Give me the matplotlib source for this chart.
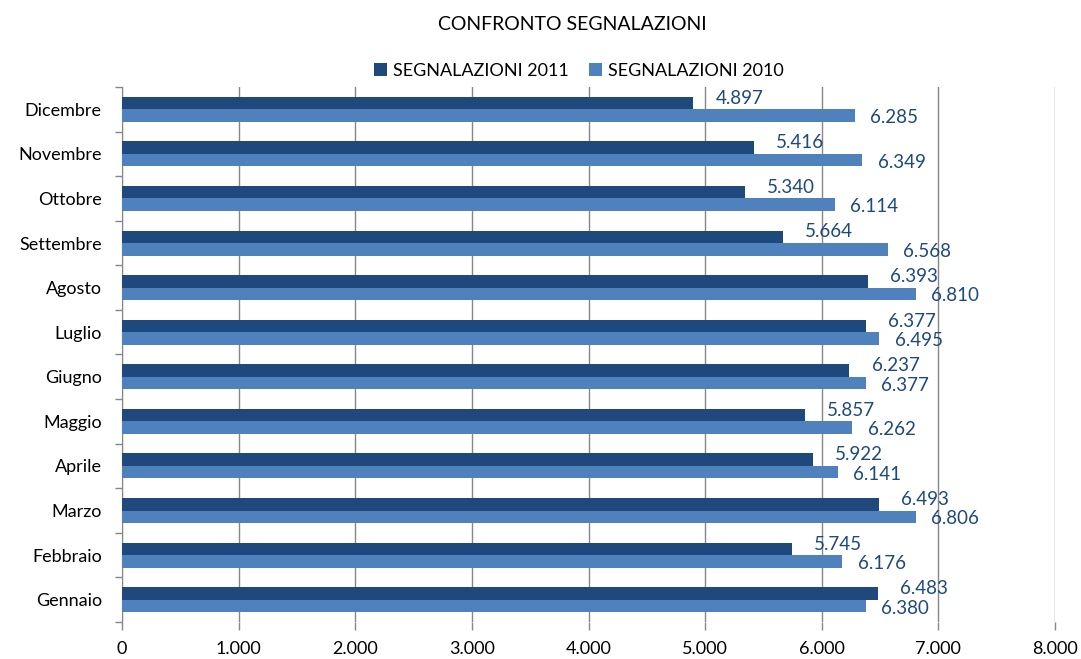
import matplotlib
matplotlib.use("Agg")
import matplotlib.pyplot as plt
import numpy as np

months = ["Gennaio", "Febbraio", "Marzo", "Aprile", "Maggio", "Giugno",
          "Luglio", "Agosto", "Settembre", "Ottobre", "Novembre", "Dicembre"]
seg_2011 = [6483, 5745, 6493, 5922, 5857, 6237, 6377, 6393, 5664, 5340, 5416, 4897]
seg_2010 = [6380, 6176, 6806, 6141, 6262, 6377, 6495, 6810, 6568, 6114, 6349, 6285]
x_ticks = [0, 1000, 2000, 3000, 4000, 5000, 6000, 7000, 8000]

plt.rcParams['font.family'] = ['Lato', 'DejaVu Sans']

c2011 = '#1F497D'
c2010 = '#4F81BD'
lab_col = '#1F497D'
grid_col = '#868686'

fig = plt.figure(figsize=(10.81, 6.59), dpi=100)
ax = fig.add_axes([122/1081, 1-622/659, (1055-122)/1081, (622-87)/659])

y = np.arange(len(months))
h = 0.28
ax.barh(y + h/2, seg_2011, height=h, color=c2011, label='SEGNALAZIONI 2011', zorder=3)
ax.barh(y - h/2, seg_2010, height=h, color=c2010, label='SEGNALAZIONI 2010', zorder=3)

def fmt(v):
    return f"{v:,}".replace(",", ".")

for yi, v in zip(y, seg_2011):
    ax.annotate(fmt(v), (v, yi + h/2), xytext=(16, 3.5), textcoords='offset points',
                ha='left', va='center', color=lab_col, fontsize=13.5, zorder=4)
for yi, v in zip(y, seg_2010):
    ax.annotate(fmt(v), (v, yi - h/2), xytext=(11, -1.5), textcoords='offset points',
                ha='left', va='center', color=lab_col, fontsize=13.5, zorder=4)

ax.set_xlim(0, 8000)
ax.set_ylim(-0.5, len(months) - 0.5)
ax.set_xticks(x_ticks)
ax.set_xticklabels([fmt(t) for t in x_ticks], fontsize=13)
ax.set_yticks(np.arange(-0.5, len(months), 1.0))
ax.set_yticklabels([])
ax.set_yticks(y, minor=True)
ax.set_yticklabels(months, minor=True, fontsize=13)
ax.tick_params(axis='y', which='major', direction='out', length=5, color=grid_col, width=1)
ax.tick_params(axis='y', which='minor', length=0, pad=14.5)
ax.tick_params(axis='x', direction='out', length=6, color=grid_col, width=1, pad=8)

ax.grid(axis='x', color=grid_col, linewidth=1, zorder=0)
for s in ['top', 'right']:
    ax.spines[s].set_visible(False)
ax.spines['left'].set_color(grid_col)
ax.spines['bottom'].set_visible(False)

fig.text(572/1081, 1-24/659, 'CONFRONTO SEGNALAZIONI', ha='center', va='center', fontsize=14)
leg = fig.legend(loc='center', bbox_to_anchor=(579/1081, 1-71/659), ncol=2, frameon=False,
                 fontsize=13, handlelength=0.7, handleheight=0.7, handletextpad=0.35,
                 columnspacing=1.1, borderpad=0)

fig.savefig('out.png', dpi=100)
